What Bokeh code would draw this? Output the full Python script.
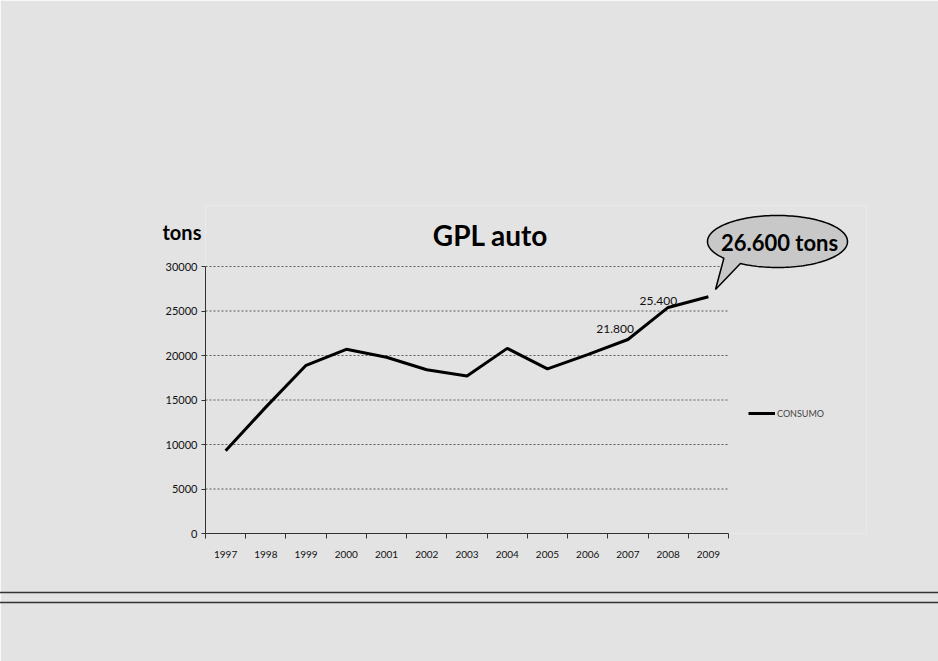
import numpy as np
from bokeh.plotting import figure
from bokeh.models import (Label, PolyAnnotation, Legend, LegendItem, FixedTicker,
                          Range1d, ColumnDataSource)
from bokeh.core.properties import value
from bokeh.embed import file_html
from bokeh.resources import INLINE

# ---------------- data ----------------
years = [1997, 1998, 1999, 2000, 2001, 2002, 2003, 2004, 2005, 2006, 2007, 2008, 2009]
consumo = [9300, 14200, 18900, 20700, 19800, 18400, 17700, 20800, 18500, 20100, 21800, 25400, 26600]
y_ticks = [0, 5000, 10000, 15000, 20000, 25000, 30000]
labeled_years = [2007, 2008]
callout_year = 2009
title_text = "GPL auto"
unit_text = "tons"
series_name = "CONSUMO"

FONT = "Lato"
W, H = 938, 661
# visible plot box (canvas px): x 205..728, y 266..533
PL, PR, PT, PB = 205, 728, 266, 533
# drawing frame is larger so that the callout bubble fits inside it
FR, FT = 866, 205
BG = "#e3e3e3"


def it_fmt(v):
    return f"{v:,}".replace(",", ".")


x0, x1 = years[0] - 0.5, years[-1] + 0.5
px_per_x = (PR - PL) / (x1 - x0)
y0, y1 = y_ticks[0], y_ticks[-1]
px_per_y = (PB - PT) / (y1 - y0)

p = figure(frame_width=FR - PL, frame_height=PB - FT,
           x_range=Range1d(x0, x0 + (FR - PL) / px_per_x),
           y_range=Range1d(y0, y0 + (PB - FT) / px_per_y),
           output_backend="svg", toolbar_location=None,
           min_border_left=PL, min_border_right=W - FR,
           min_border_top=FT, min_border_bottom=H - PB)
p.background_fill_color = BG
p.border_fill_color = BG
p.outline_line_color = None

# axes (limited to the data extent)
p.yaxis.bounds = (y0, y1)
p.yaxis.ticker = FixedTicker(ticks=y_ticks)
p.yaxis.axis_line_color = "#333333"
p.yaxis.major_tick_line_color = "#333333"
p.yaxis.major_tick_out = 4
p.yaxis.major_tick_in = 0
p.yaxis.minor_tick_line_color = None
p.yaxis.major_label_standoff = 4
p.yaxis.major_label_text_font = FONT
p.yaxis.major_label_text_font_size = "11px"
p.yaxis.major_label_text_color = "#111111"

p.xaxis.bounds = (x0, x1)
p.xaxis.ticker = FixedTicker(ticks=years,
                             minor_ticks=[y - 0.5 for y in years] + [years[-1] + 0.5])
p.xaxis.axis_line_color = "#333333"
p.xaxis.major_tick_line_color = None
p.xaxis.major_tick_out = 0
p.xaxis.major_tick_in = 0
p.xaxis.minor_tick_line_color = "#333333"
p.xaxis.minor_tick_out = 5
p.xaxis.minor_tick_in = 0
p.xaxis.major_label_standoff = 12
p.xaxis.major_label_text_font = FONT
p.xaxis.major_label_text_font_size = "10px"
p.xaxis.major_label_text_color = "#111111"

p.xgrid.grid_line_color = None
p.ygrid.grid_line_color = None

# horizontal gridlines limited to the plot box
gl = [t for t in y_ticks if t > y0]
p.segment(x0=[x0] * len(gl), x1=[x1] * len(gl), y0=gl, y1=gl,
          line_color="#444444", line_dash="2 2", line_alpha=0.85, line_width=1)

# series
r = p.line(years, consumo, line_color="black", line_width=3)

legend = Legend(items=[LegendItem(label=series_name, renderers=[r])],
                location=(748 - PL, PB - 413 - 10), border_line_color=None,
                background_fill_alpha=0, label_text_font=FONT,
                label_text_font_size="9px", glyph_width=27, label_standoff=2,
                padding=0, margin=0)
p.add_layout(legend)

# data labels
idx = [years.index(y) for y in labeled_years]
src = ColumnDataSource(dict(x=[years[i] for i in idx], y=[consumo[i] for i in idx],
                            t=[it_fmt(consumo[i]) for i in idx],
                            xo=[6, 9], yo=[-10, -6]))
p.text(x="x", y="y", text="t", x_offset="xo", y_offset="yo", source=src,
       text_align="right", text_baseline="alphabetic",
       text_font=value(FONT), text_font_size="12px", text_color="#111111")

# title and unit label
p.add_layout(Label(x=490, y=234, x_units="canvas", y_units="canvas",
                   text=title_text, text_align="center", text_baseline="alphabetic",
                   text_font=FONT, text_font_style="bold", text_font_size="28px",
                   text_color="#000000"), "above")
p.add_layout(Label(x=162, y=231, x_units="canvas", y_units="canvas",
                   text=unit_text, text_align="left", text_baseline="alphabetic",
                   text_font=FONT, text_font_style="bold", text_font_size="20px",
                   text_color="#000000"), "above")

# callout bubble (ellipse + tail pointing to the last point)
ccx, ccy, rx, ry = 777, 241, 70, 26
t1, t2 = np.deg2rad(140), np.deg2rad(122 + 360)
tt = np.linspace(t1, t2, 160)
bx = list(ccx + rx * np.cos(tt)) + [715]
by = list(ccy + ry * np.sin(tt)) + [289]
p.add_layout(PolyAnnotation(xs=bx, ys=by, xs_units="canvas", ys_units="canvas",
                            fill_color="#c8c8c8", fill_alpha=1,
                            line_color="#000000", line_alpha=1, line_width=1.5))
p.add_layout(Label(x=779, y=242, x_units="canvas", y_units="canvas",
                   text=f"{it_fmt(consumo[years.index(callout_year)])} {unit_text}",
                   text_align="center", text_baseline="middle",
                   text_font=FONT, text_font_style="bold", text_font_size="22px",
                   text_color="#000000"))

# double rule near the bottom of the page (outline of a thin full-width box)
p.add_layout(Label(x=W / 2, y=597, x_units="canvas", y_units="canvas", text=" ",
                   text_align="center", text_baseline="middle",
                   text_font_size="2px", background_fill_color=None,
                   border_line_color="#333333", border_line_width=1.5,
                   padding=dict(left=W // 2 + 4, right=W // 2 + 4, top=4, bottom=4)),
             "below")

open("out.html", "w").write(file_html(p, INLINE))
